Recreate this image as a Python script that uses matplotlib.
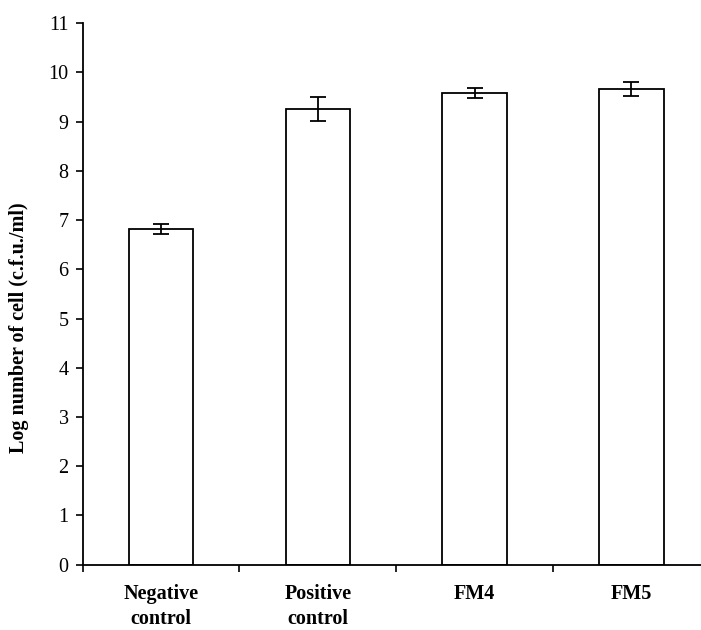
import matplotlib
matplotlib.use("Agg")
import matplotlib.pyplot as plt
import numpy as np

categories = ["Negative\ncontrol", "Positive\ncontrol", "FM4", "FM5"]
log_counts = [6.82, 9.26, 9.58, 9.67]
errors = [0.10, 0.25, 0.10, 0.14]
y_ticks = list(range(0, 12))

plt.rcParams["font.family"] = ["Liberation Serif", "DejaVu Serif"]

fig = plt.figure(figsize=(7.01, 6.30), dpi=100)
ax = fig.add_axes([0.1177, 0.1037, 0.8949, 0.8594])

x = np.arange(len(categories))
ax.bar(x, log_counts, width=0.41, color="white", edgecolor="black",
       linewidth=1.3, zorder=2)
ax.errorbar(x, log_counts, yerr=errors, fmt="none", ecolor="black",
            elinewidth=1.3, capsize=5.5, capthick=1.3, zorder=3)

ax.set_xlim(-0.5, len(categories) - 0.5)
ax.set_ylim(0, 11)
ax.set_yticks(y_ticks)
ax.set_yticklabels([str(t) for t in y_ticks], fontsize=14.5)

# category names sit between the boundary ticks
ax.set_xticks(np.arange(len(categories) + 1) - 0.5)
ax.set_xticklabels([])
ax.set_xticks(x, minor=True)
ax.set_xticklabels(categories, minor=True, fontsize=14.5, fontweight="bold",
                   linespacing=1.3)
ax.tick_params(axis="x", which="minor", length=0, pad=14)
ax.tick_params(axis="x", which="major", length=5, width=1.2, direction="out")
ax.tick_params(axis="y", length=5, width=1.2, direction="out", pad=5)

for side in ("top", "right"):
    ax.spines[side].set_visible(False)
for side in ("left", "bottom"):
    ax.spines[side].set_linewidth(1.3)

ax.set_ylabel("Log number of cell (c.f.u./ml)", fontsize=14.5,
              fontweight="bold")
ax.yaxis.set_label_coords(-0.085, 0.437)

fig.savefig("out.png", dpi=100)
